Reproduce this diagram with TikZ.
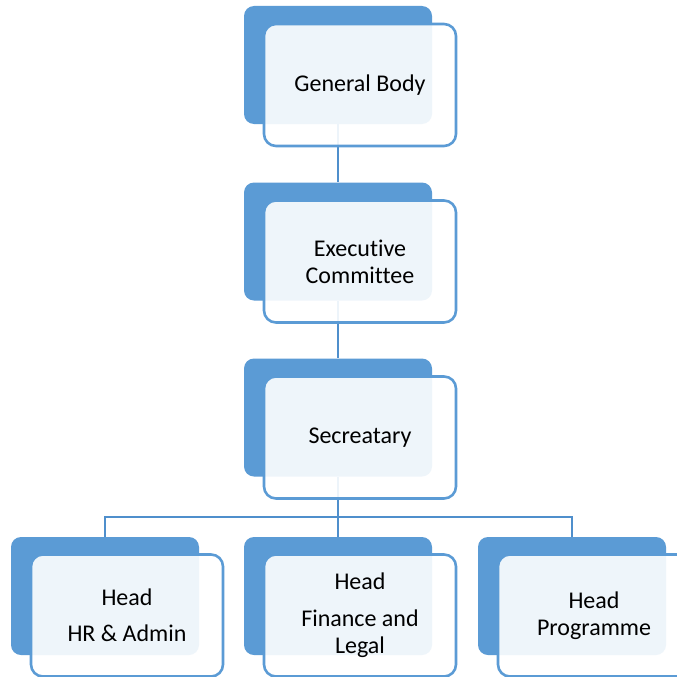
\documentclass[tikz,border=0pt]{standalone}
\usepackage{fontspec}
\setmainfont{Carlito}[Ligatures=NoCommon]
\begin{document}
\begin{tikzpicture}[x=1pt,y=-1pt,
  darkbox/.style={draw=none,fill=blueA,rounded corners=10pt,minimum width=188pt,minimum height=118pt,inner sep=0pt},
  lightbox/.style={draw=blueA,line width=2.6pt,fill=white,fill opacity=0.9,text opacity=1,rounded corners=12pt,minimum width=192pt,minimum height=122pt,inner sep=0pt,align=center,font=\fontsize{24}{27}\selectfont},
  link/.style={draw=blueB,line width=2.8pt}]
\definecolor{blueA}{HTML}{5B9BD5}
\definecolor{blueB}{HTML}{4F8FCC}
\clip (0,0) rectangle (677,677);
\fill[white] (0,0) rectangle (677,677);
% dark boxes
\node[darkbox] (d1) at (338,65) {};
\node[darkbox] (d2) at (338,241.5) {};
\node[darkbox] (d3) at (338,417.5) {};
\node[darkbox] (d4) at (105,596) {};
\node[darkbox] (d5) at (338,596) {};
\node[darkbox] (d6) at (572,596) {};
% connectors
\coordinate (j) at (338,517);
\coordinate (jl) at (105,517);
\coordinate (jr) at (572,517);
\draw[link] (d1.south) -- (d2.north);
\draw[link] (d2.south) -- (d3.north);
\draw[link] (d3.south) -- (j);
\draw[link,line cap=rect] (jl) -- (jr);
\draw[link] (jl) -- (d4.north);
\draw[link] (j) -- (d5.north);
\draw[link] (jr) -- (d6.north);
% light boxes
\node[lightbox] (l1) at (360,85) {General Body};
\node[lightbox] (l2) at (360,261.5) {Executive\\Committee};
\node[lightbox] (l3) at (360,437.5) {Secreatary};
\node[lightbox] (l4) at (127,615.5) {Head\\[9pt]HR \& Admin};
\node[lightbox] (l5) at (360,615.5) {Head\\[10pt]Finance and\\Legal};
\node[lightbox] (l6) at (594,615.5) {Head\\Programme};
\end{tikzpicture}
\end{document}
